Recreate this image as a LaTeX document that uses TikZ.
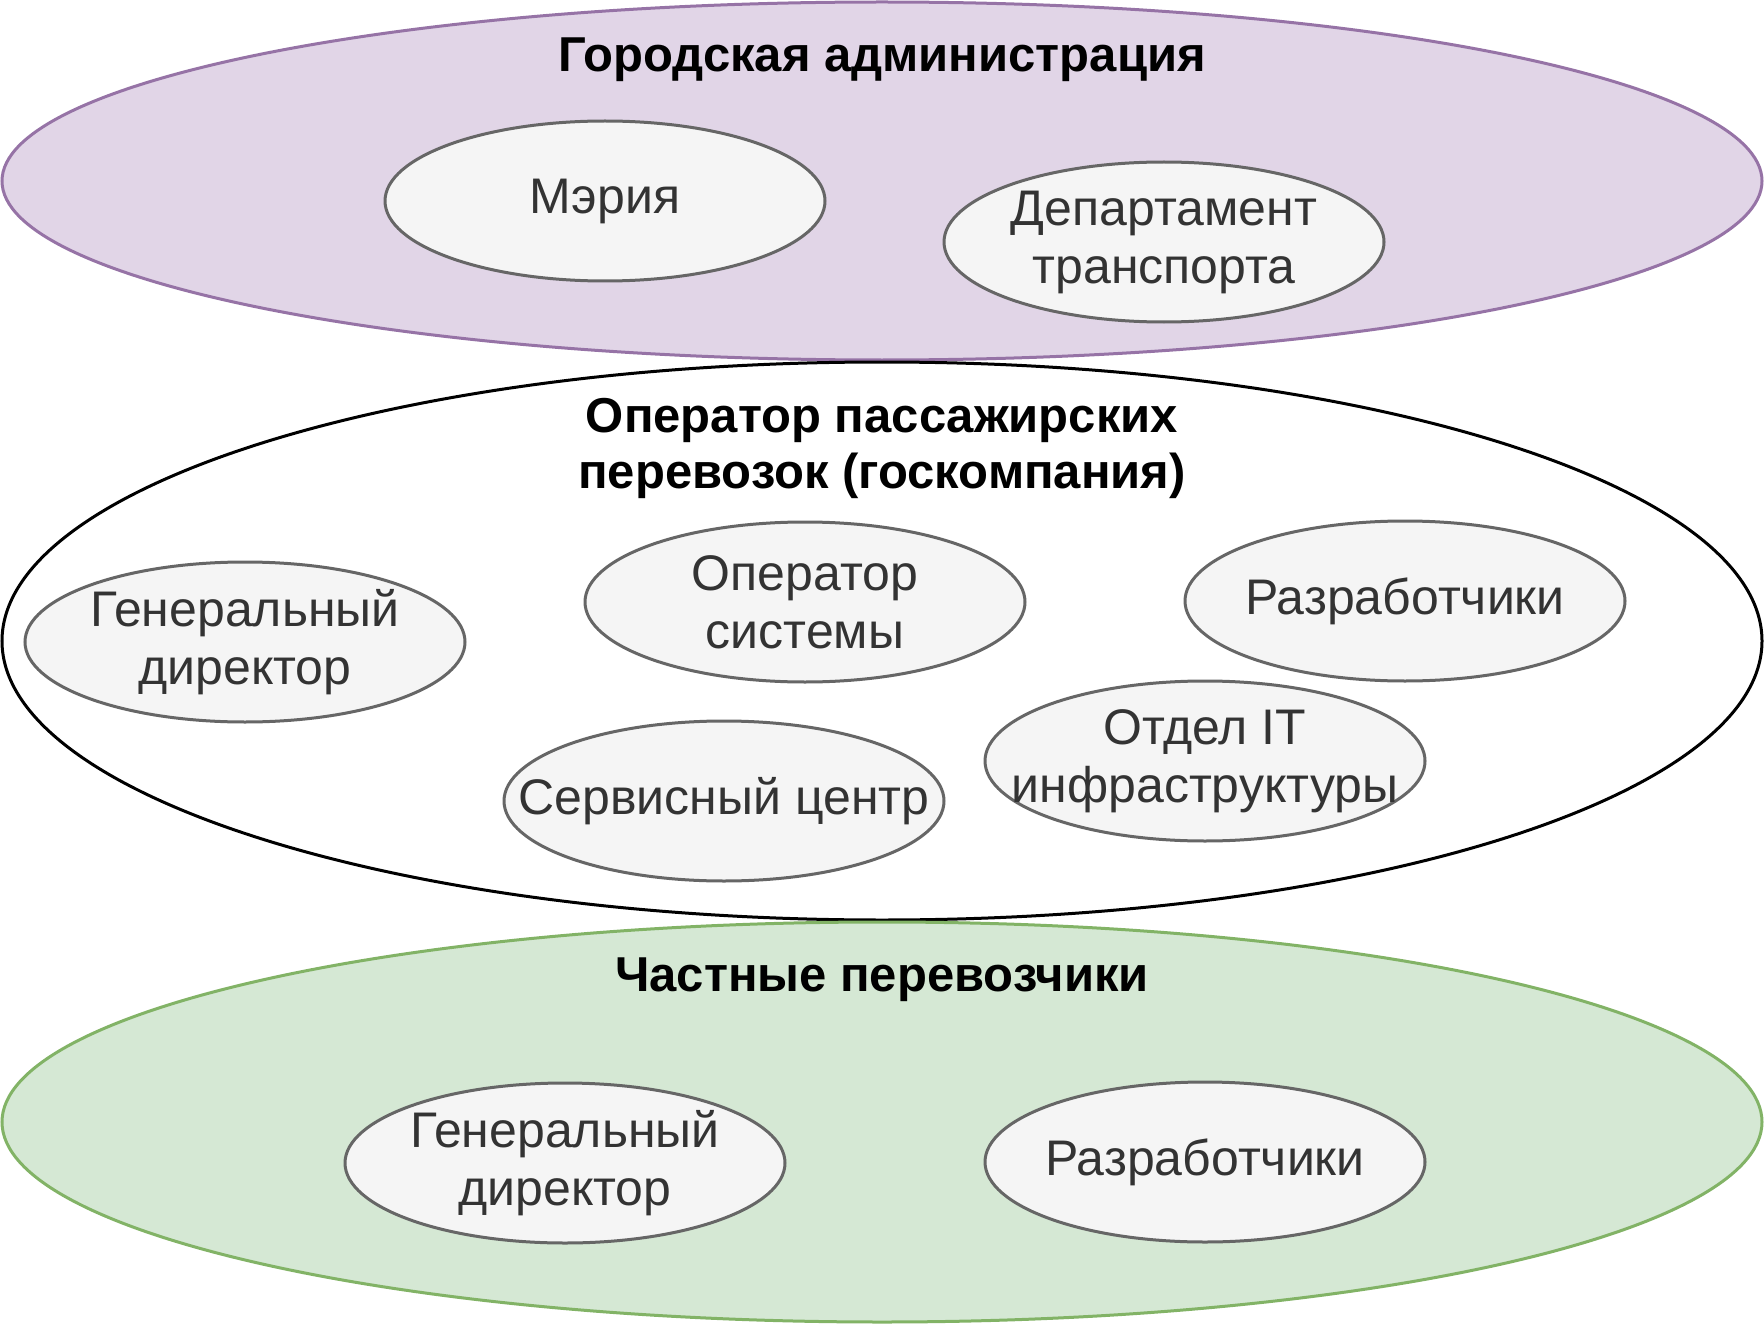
\documentclass[tikz,border=0pt]{standalone}
\usepackage{fontspec}
\setmainfont{Liberation Sans}
\usetikzlibrary{shapes.geometric, positioning}
\definecolor{adminfill}{HTML}{E1D5E7}
\definecolor{adminline}{HTML}{9673A6}
\definecolor{privfill}{HTML}{D5E8D4}
\definecolor{privline}{HTML}{82B366}
\definecolor{unitfill}{HTML}{F5F5F5}
\definecolor{unitline}{HTML}{666666}
\definecolor{unittext}{HTML}{333333}

\begin{document}
\begin{tikzpicture}[
    x=1pt, y=-1pt,
    group/.style={ellipse, line width=3pt, minimum width=1760pt, inner sep=0pt},
    unit/.style={ellipse, draw=unitline, fill=unitfill, line width=3pt, minimum width=440pt, minimum height=160pt, inner xsep=-160pt, inner ysep=0pt, align=center, text=unittext, font=\fontsize{50}{58}\selectfont},
    grouptitle/.style={align=center, font=\fontsize{49}{56}\selectfont\bfseries}
]
\useasboundingbox (0,0) rectangle (1764,1324);

% Groups
\node[group, draw=adminline, fill=adminfill, minimum height=358pt] (admin) at (882,181) {};
\node[group, draw=black, fill=white, minimum height=558pt] (operator) at (882,641) {};
\node[group, draw=privline, fill=privfill, minimum height=400pt] (private) at (882,1122) {};

% Group titles
\node[grouptitle] (admintitle) at (882,60) {Городская администрация};
\node[grouptitle] (operatortitle) at (882,448) {Оператор пассажирских\\перевозок (госкомпания)};
\node[grouptitle] (privatetitle) at (882,980) {Частные перевозчики};

% City administration
\node[unit] (mayor) at (605,201) {Мэрия};
\node[unit] (transportdept) at (1164,242) {Департамент\\транспорта};

% State operator
\node[unit] (ceo) at (245,642) {Генеральный\\директор};
\node[unit] (sysoperator) at (805,602) {Оператор\\системы};
\node[unit] (developers) at (1405,601) {Разработчики};
\node[unit] (servicecenter) at (724,801) {Сервисный центр};
\node[unit] (itdept) at (1205,761) {Отдел IT\\инфраструктуры};

% Private carriers
\node[unit] (privceo) at (565,1163) {Генеральный\\директор};
\node[unit] (privdevelopers) at (1205,1162) {Разработчики};
\end{tikzpicture}
\end{document}
